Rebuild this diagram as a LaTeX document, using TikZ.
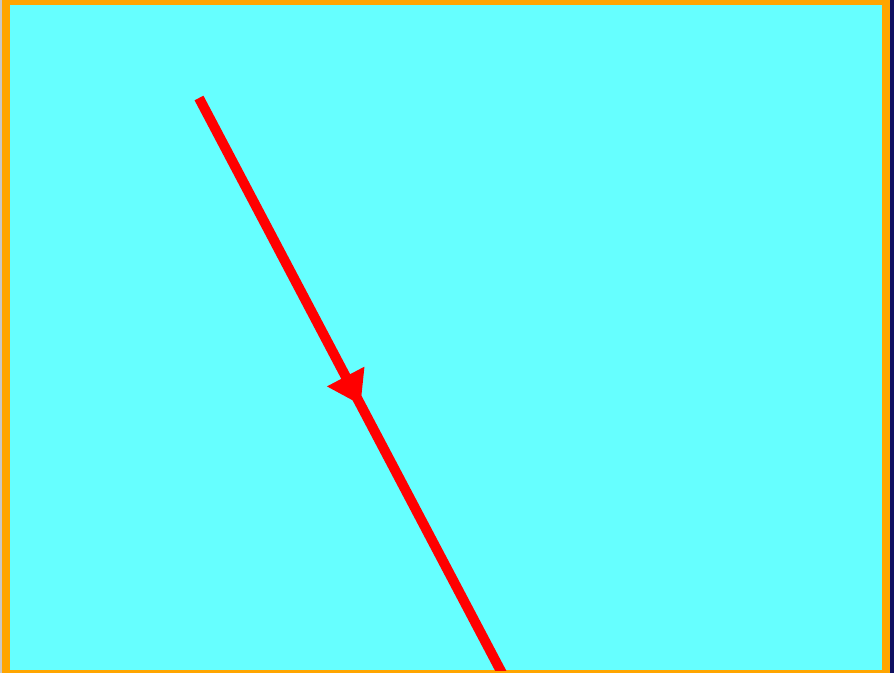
\documentclass[tikz,border=0pt]{standalone}
\usetikzlibrary{arrows.meta,decorations.markings}
\definecolor{bgcyan}{HTML}{66FFFF}
\definecolor{frameorange}{HTML}{FFA500}
\definecolor{edgenavy}{HTML}{101060}
\definecolor{edgegray}{HTML}{C8C8C8}
\tikzset{
  vector/.style={draw=red, line width=10pt, line cap=butt,
    postaction={decorate},
    decoration={markings, mark=at position 0.53 with {\arrow[red]{Triangle[length=32pt,width=40pt]}}}},
}
\begin{document}
\begin{tikzpicture}[x=1pt,y=-1pt]
\useasboundingbox (0,0) rectangle (894,673);
\fill[edgegray] (0,0) rectangle (3,673);
\fill[edgenavy] (889,0) rectangle (894,673);
\fill[frameorange] (2,0) rectangle (890,673);
\fill[bgcyan] (10,5) rectangle (882,670);
\begin{scope}
\clip (10,5) rectangle (882,670);
\coordinate (start) at (199,98);
\coordinate (end) at (504,677);
\draw[vector] (start) -- (end);
\end{scope}
\end{tikzpicture}
\end{document}
